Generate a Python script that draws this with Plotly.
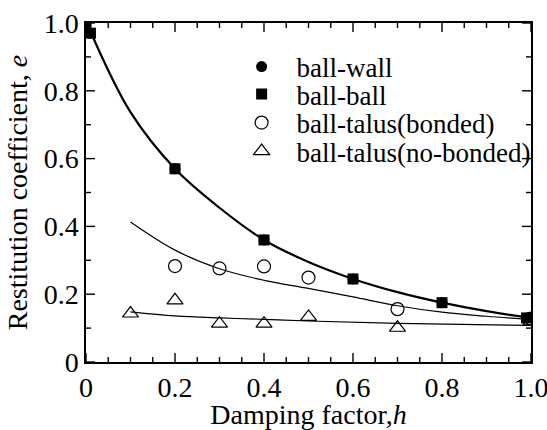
import plotly.graph_objects as go

# ---- data ----
wall_h = [0.0, 0.01, 0.2, 0.4, 0.6, 0.8, 0.99]
wall_e = [1.0, 0.97, 0.57, 0.36, 0.245, 0.175, 0.13]

ball_h = [0.0, 0.01, 0.2, 0.4, 0.6, 0.8, 0.99]
ball_e = [1.0, 0.97, 0.57, 0.36, 0.245, 0.175, 0.13]

bond_h = [0.2, 0.3, 0.4, 0.5, 0.7, 1.0]
bond_e = [0.283, 0.276, 0.282, 0.249, 0.156, 0.128]

nob_h = [0.1, 0.2, 0.3, 0.4, 0.5, 0.7, 1.0]
nob_e = [0.143, 0.182, 0.113, 0.113, 0.133, 0.101, 0.12]

# fitted curves
fit_ball_h = [0.01, 0.1, 0.2, 0.3, 0.4, 0.5, 0.6, 0.7, 0.8, 0.9, 1.0]
fit_ball_e = [0.975, 0.737, 0.57, 0.455, 0.36, 0.295, 0.245, 0.206, 0.175, 0.150, 0.13]

fit_bond_h = [0.1, 0.2, 0.3, 0.4, 0.5, 0.6, 0.7, 0.8, 0.9, 1.0]
fit_bond_e = [0.413, 0.33, 0.275, 0.241, 0.217, 0.192, 0.166, 0.147, 0.135, 0.125]

fit_nob_h = [0.1, 0.2, 0.3, 0.4, 0.5, 0.7, 1.0]
fit_nob_e = [0.148, 0.136, 0.130, 0.126, 0.121, 0.114, 0.108]

x_ticks = [0, 0.2, 0.4, 0.6, 0.8, 1.0]
x_ticktext = ["0", "0.2", "0.4", "0.6", "0.8", "1.0"]
x_minor = [0.05, 0.1, 0.15, 0.25, 0.3, 0.35, 0.45, 0.5, 0.55, 0.65, 0.7, 0.75, 0.85, 0.9, 0.95]
y_ticks = [0, 0.2, 0.4, 0.6, 0.8, 1.0]
y_ticktext = ["0", "0.2", "0.4", "0.6", "0.8", "1.0"]
y_minor = [0.1, 0.3, 0.5, 0.7, 0.9]

FONT = "Liberation Serif"

fig = go.Figure()

fig.add_trace(go.Scatter(x=fit_ball_h, y=fit_ball_e, mode="lines", line=dict(color="black", width=2.2, shape="spline"),
                         showlegend=False, hoverinfo="skip"))
fig.add_trace(go.Scatter(x=fit_bond_h, y=fit_bond_e, mode="lines", line=dict(color="black", width=1.2, shape="spline"),
                         showlegend=False, hoverinfo="skip"))
fig.add_trace(go.Scatter(x=fit_nob_h, y=fit_nob_e, mode="lines", line=dict(color="black", width=1.2, shape="spline"),
                         showlegend=False, hoverinfo="skip"))

fig.add_trace(go.Scatter(x=wall_h, y=wall_e, mode="markers", name="ball-wall", legend="legend",
                         marker=dict(symbol="circle", size=11, color="black")))
fig.add_trace(go.Scatter(x=ball_h, y=ball_e, mode="markers", name="ball-ball", legend="legend2",
                         marker=dict(symbol="square", size=11, color="black")))
fig.add_trace(go.Scatter(x=bond_h, y=bond_e, mode="markers", name="ball-talus(bonded)", legend="legend3",
                         marker=dict(symbol="circle-open", size=13, color="black", line=dict(width=1.2))))
fig.add_trace(go.Scatter(x=nob_h, y=nob_e, mode="markers", name="ball-talus(no-bonded)", legend="legend4",
                         marker=dict(symbol="triangle-up-open", size=14, color="black", line=dict(width=1.2))))

# tick marks on all four sides (inside), placed on the axis scales
TICK = dict(color="black", width=1.4)
for v, ln in [(t, 9) for t in x_ticks] + [(t, 5) for t in x_minor]:
    fig.add_shape(type="line", xref="x", yref="paper", ysizemode="pixel", yanchor=0,
                  x0=v, x1=v, y0=0, y1=ln, line=TICK, layer="above")
    fig.add_shape(type="line", xref="x", yref="paper", ysizemode="pixel", yanchor=1,
                  x0=v, x1=v, y0=0, y1=-ln, line=TICK, layer="above")
for v, ln in [(t, 9) for t in y_ticks] + [(t, 5) for t in y_minor]:
    fig.add_shape(type="line", xref="paper", yref="y", xsizemode="pixel", xanchor=0,
                  x0=0, x1=ln, y0=v, y1=v, line=TICK, layer="above")
    fig.add_shape(type="line", xref="paper", yref="y", xsizemode="pixel", xanchor=1,
                  x0=0, x1=-ln, y0=v, y1=v, line=TICK, layer="above")

axis_common = dict(
    showline=True, linecolor="black", linewidth=1.5, mirror=True,
    ticks="", showgrid=False, zeroline=False, ticklabeloverflow="allow",
    tickfont=dict(family=FONT, size=28, color="black"),
)

fig.update_xaxes(range=[0, 1.0], tickmode="array", tickvals=x_ticks, ticktext=x_ticktext,
                 title=dict(text="Damping factor,<i>h</i>", font=dict(family=FONT, size=28, color="black"), standoff=6),
                 **axis_common)
fig.update_yaxes(range=[0, 1.0], tickmode="array", tickvals=y_ticks, ticktext=y_ticktext,
                 title=dict(text="Restitution coefficient, <i>e</i>", font=dict(family=FONT, size=28, color="black"), standoff=8),
                 **axis_common)

leg = dict(x=0.316, xanchor="left", yanchor="middle",
           font=dict(family=FONT, size=27, color="black"),
           bgcolor="rgba(0,0,0,0)", itemwidth=60)
fig.update_layout(
    width=547, height=430,
    margin=dict(l=86, r=16, t=23, b=68, autoexpand=False),
    paper_bgcolor="white", plot_bgcolor="white",
    legend=dict(y=0.870, **leg),
    legend2=dict(y=0.789, **leg),
    legend3=dict(y=0.705, **leg),
    legend4=dict(y=0.621, **leg),
)

fig.write_html("out.html")
